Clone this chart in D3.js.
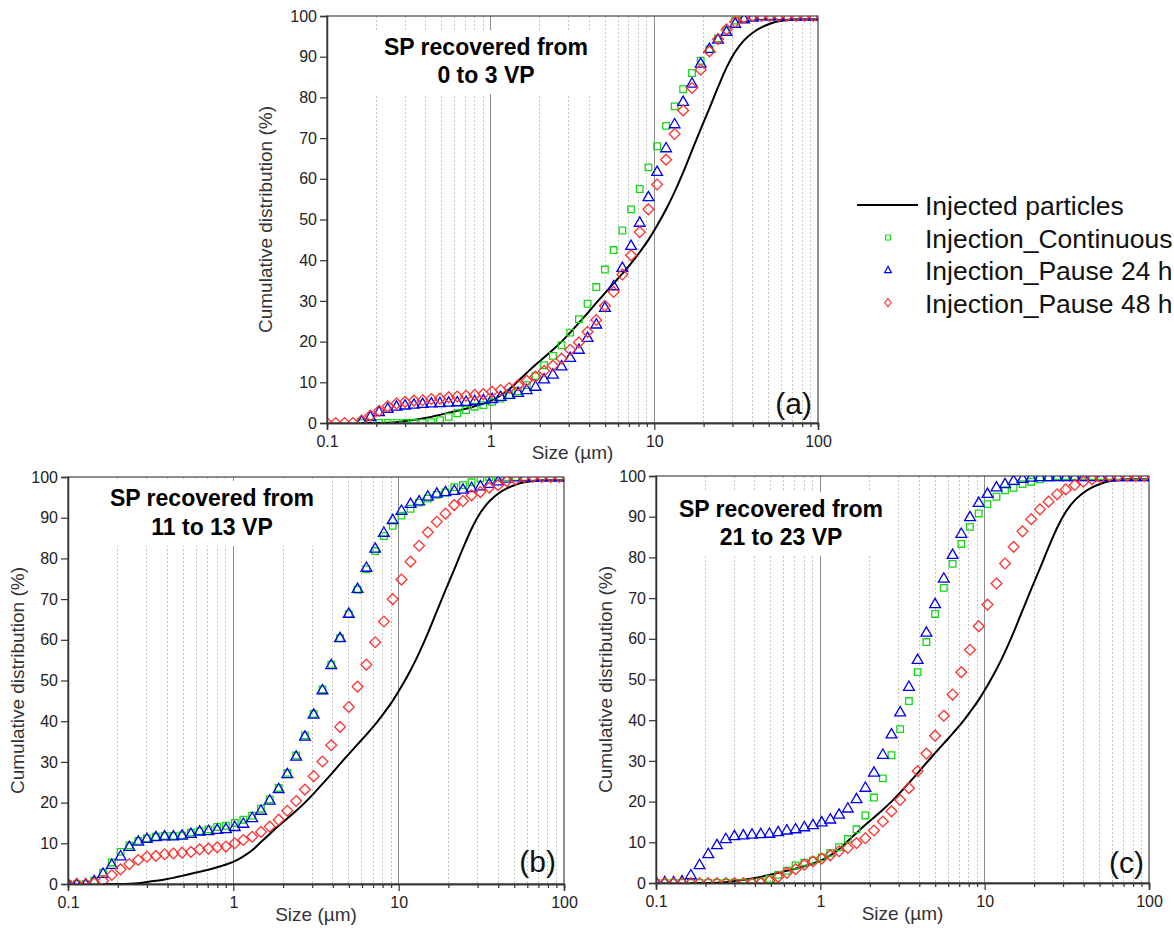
<!DOCTYPE html>
<html><head><meta charset="utf-8">
<script src="https://cdn.jsdelivr.net/npm/d3@7"></script>
<style>
body{margin:0;background:#fff}
svg{display:block}
text{font-family:Arial,"Liberation Sans",sans-serif}
</style>
</head><body>
<svg id="chart" width="1174" height="928"></svg>
<script>
// particle size classes (µm)
const sizes = [0.1,0.113,0.128,0.144,0.163,0.184,0.208,0.235,0.266,0.300,
  0.340,0.384,0.434,0.490,0.554,0.625,0.707,0.799,0.902,1.02,
  1.15,1.30,1.47,1.66,1.88,2.12,2.40,2.71,3.06,3.46,
  3.91,4.42,4.99,5.64,6.38,7.21,8.14,9.20,10.4,11.8,
  13.3,15.0,17.0,19.2,21.7,24.5,27.6,31.2,35.3,39.9,
  45.1,50.9,57.6,65.0,73.5,83.0,93.8,106];

const injected = [null,null,null,null,0,0,0,0.05,0.2,0.5,
  0.8,1.1,1.5,2.0,2.5,3.0,3.5,4.1,4.8,5.6,
  6.8,8.3,10.3,12.3,14.3,16.1,18.0,20.0,22.2,24.6,
  27.0,29.5,31.9,34.3,36.7,39.2,42.0,45.0,48.5,52.5,
  56.8,61.6,67.0,72.2,77.3,82.5,87.3,91.2,94.0,95.9,
  97.2,98.1,98.7,99.0,99.2,99.2,99.2,99.2];

// (a) 0 to 3 VP
const a_continuous = [null,null,null,null,0,0,0,0,0,0,
  0,0,0.2,0.7,1.5,2.4,3.2,4.0,4.4,5.2,
  6.0,6.8,7.8,9.3,11.5,14.2,16.5,19.1,22.2,25.5,
  29.3,33.4,37.7,42.5,47.3,52.5,57.5,62.8,68.0,73.0,
  77.8,82.0,86.0,89.0,91.8,94.5,96.4,98.9,99.5,99.8,
  100,100,100,100,100,100,100,100];
const a_pause24 = [null,null,null,null,0.5,1.6,2.8,3.6,4.1,4.4,
  4.6,4.8,4.9,5.0,5.1,5.2,5.3,5.5,5.7,6.0,
  6.5,7.0,7.5,8.2,9.0,10.8,12.0,14.0,16.1,18.1,
  21.0,24.3,28.4,33.7,38.2,43.6,49.3,55.6,61.8,67.6,
  73.5,79.0,83.5,88.4,92.0,94.3,96.2,98.2,99.3,99.7,
  100,100,100,100,100,100,100,100];
const a_pause48 = [0,0,0,0,0.6,1.8,3.0,4.1,4.8,5.2,
  5.5,5.6,5.9,6.0,6.3,6.5,6.7,6.9,7.1,7.7,
  8.1,8.6,9.3,10.4,11.4,12.8,14.1,15.8,18.0,19.8,
  22.4,25.3,28.8,32.2,36.5,41.2,46.9,52.5,58.6,64.7,
  71.0,76.8,82.3,86.8,91.3,94.3,96.7,98.6,99.6,100,
  100,100,100,100,100,100,100,100];

// (b) 11 to 13 VP
const b_continuous = [0,0,0,0.8,2.8,5.3,7.9,9.5,10.6,11.2,
  11.6,11.8,11.8,11.9,12.6,13.0,13.4,14.0,14.3,15.0,
  15.8,16.8,18.5,20.8,23.6,27.3,31.6,36.5,41.8,47.8,
  53.9,60.4,66.3,72.3,77.3,81.8,85.5,88.0,90.5,92.2,
  93.7,94.7,95.6,96.2,97.5,98.0,98.7,99.7,100,100,
  100,100,100,100,100,100,100,100];
const b_pause24 = [0,0,0,0.8,2.6,4.8,6.9,9.2,10.5,11.2,
  11.6,11.8,11.8,12.0,12.4,13.0,13.1,13.4,13.6,14.1,
  14.9,16.3,18.1,20.6,23.4,27.1,31.4,36.3,41.7,47.7,
  53.9,60.5,66.5,72.6,77.8,82.5,86.4,89.5,91.8,93.5,
  94.1,95.3,96.0,96.4,96.7,97.0,97.4,97.8,98.4,99.0,
  99.7,100,100,100,100,100,100,100];
const b_pause48 = [0,0,0,0.2,0.8,2.2,3.6,4.9,5.9,6.7,
  6.9,7.3,7.5,7.7,7.9,8.5,8.7,9.0,9.2,10.0,
  10.8,11.6,12.8,14.1,15.8,18.0,20.4,23.2,26.5,30.1,
  34.1,38.6,43.5,48.5,53.9,59.4,64.5,70.0,74.8,79.2,
  83.1,86.4,89.0,91.0,93.1,94.1,95.5,96.3,97.4,98.0,
  99.0,99.4,100,100,100,100,100,100];

// (c) 21 to 23 VP
const c_continuous = [0,0,0,0,0,0,0,0,0,0,
  0,0,0.3,1.0,2.0,3.0,4.3,5.0,5.5,6.3,
  7.4,8.8,10.8,13.2,16.6,21.0,25.7,31.4,37.8,44.7,
  51.8,59.2,66.1,72.5,78.4,83.3,87.5,90.8,93.1,94.9,
  96.5,97.1,98.0,98.6,99.2,99.6,100,100,100,100,
  100,100,100,100,100,100,100,100];
const c_pause24 = [0.3,0.3,0.3,0.5,2.0,4.5,7.2,9.4,10.9,11.6,
  11.8,12.0,12.1,12.2,12.6,13.0,13.3,13.8,14.3,15.0,
  15.7,16.9,18.4,20.7,23.5,27.2,31.6,36.6,42.0,48.3,
  54.9,61.6,68.6,74.9,80.7,85.9,90.0,93.5,95.7,97.3,
  98.1,98.9,99.4,99.7,99.8,99.8,99.8,99.8,99.8,99.8,
  99.8,99.8,99.8,99.8,99.8,99.8,99.8,99.8];
const c_pause48 = [0,0,0,0,0,0,0,0,0,0,
  0,0,0,0.5,1.5,2.5,3.4,4.5,5.3,6.0,
  6.8,7.8,8.6,9.8,11.0,12.9,15.1,17.6,20.4,23.3,
  27.5,31.8,36.2,41.1,46.3,51.8,57.3,63.1,68.4,73.6,
  78.5,82.6,86.4,89.4,91.8,93.7,95.5,96.7,97.8,98.6,
  99.2,99.6,100,100,100,100,100,100];

const yTicks = [0,10,20,30,40,50,60,70,80,90,100];
const xMajor = [0.1,1,10,100];
const xMajorLabels = ["0.1","1","10","100"];
const seriesNames = ["Injected particles","Injection_Continuous","Injection_Pause 24 h","Injection_Pause 48 h"];
const titleA = ["SP recovered from","0 to 3 VP"];
const titleB = ["SP recovered from","11 to 13 VP"];
const titleC = ["SP recovered from","21 to 23 VP"];
const yTitle = "Cumulative distribution (%)";
const xTitle = "Size (µm)";

const COL = {green:"#16d816", blue:"#0000f0", red:"#ff3030"};
const SHAPE = {
  square:"M-3.3,-3.3H3.3V3.3H-3.3Z",
  triangle:"M0,-5.4L5.4,3.9L-5.4,3.9Z",
  diamond:"M0,-5.4L5.4,0L0,5.4L-5.4,0Z"
};
const SHAPE_SMALL = {
  square:"M-2.5,-2.5H2.5V2.5H-2.5Z",
  triangle:"M0,-3.6L3.4,2.6L-3.4,2.6Z",
  diamond:"M0,-4L3.2,0L0,4L-3.2,0Z"
};

const panels = [
  {key:"a", x0:327, x1:818, y0:16, y1:423, title:titleA, cx:486, t1:55, t2:83,
   letter:"(a)", lx:812, ly:414, ylx:272, xly:459,
   cont:a_continuous, p24:a_pause24, p48:a_pause48},
  {key:"b", x0:68, x1:564, y0:477, y1:884, title:titleB, cx:212, t1:506, t2:535,
   letter:"(b)", lx:556, ly:872, ylx:24, xly:921,
   cont:b_continuous, p24:b_pause24, p48:b_pause48},
  {key:"c", x0:656, x1:1149, y0:476, y1:883, title:titleC, cx:781, t1:517, t2:545,
   letter:"(c)", lx:1144, ly:873, ylx:612, xly:920,
   cont:c_continuous, p24:c_pause24, p48:c_pause48}
];

const svg = d3.select("#chart");

panels.forEach(p => {
  const x = d3.scaleLog().domain([0.1,100]).range([p.x0,p.x1]);
  const y = d3.scaleLinear().domain([0,100]).range([p.y1,p.y0]);
  const g = svg.append("g");
  const clipId = "clip-" + p.key;
  g.append("clipPath").attr("id", clipId).append("rect")
    .attr("x", p.x0).attr("y", p.y0).attr("width", p.x1 - p.x0).attr("height", p.y1 - p.y0);

  // vertical grid
  const all = x.ticks().filter(v => v > 0.1 + 1e-9 && v < 100 - 1e-6);
  const isMajor = v => Math.abs(Math.log10(v) - Math.round(Math.log10(v))) < 1e-6;
  g.append("g").selectAll("line").data(all).join("line")
    .attr("x1", d => x(d)).attr("x2", d => x(d))
    .attr("y1", p.y0).attr("y2", p.y1)
    .attr("stroke", d => isMajor(d) ? "#8c8c8c" : "#c4c4c4")
    .attr("stroke-width", 1)
    .attr("stroke-dasharray", d => isMajor(d) ? null : "2,2")
    .attr("shape-rendering", "crispEdges");

  // title (white box hides grid)
  g.append("rect").attr("x", p.cx - 110).attr("y", p.t1 - 25)
    .attr("width", 220).attr("height", p.t2 - p.t1 + 36).attr("fill", "#fff");
  g.append("g").selectAll("text").data(p.title).join("text")
    .attr("x", p.cx).attr("y", (d, i) => i ? p.t2 : p.t1)
    .attr("text-anchor", "middle").attr("font-weight", "bold")
    .attr("font-size", 23).attr("fill", "#000").text(d => d);

  // frame
  g.append("rect").attr("x", p.x0).attr("y", p.y0)
    .attr("width", p.x1 - p.x0).attr("height", p.y1 - p.y0)
    .attr("fill", "none").attr("stroke", "#444").attr("stroke-width", 1.2);

  // data
  const plot = g.append("g").attr("clip-path", `url(#${clipId})`);
  const line = d3.line().defined(d => d[1] != null)
    .x(d => x(d[0])).y(d => y(d[1])).curve(d3.curveMonotoneX);
  plot.append("path").datum(sizes.map((s, i) => [s, injected[i]]))
    .attr("d", line).attr("fill", "none").attr("stroke", "#000").attr("stroke-width", 2);

  const series = [
    {vals:p.cont, shape:"square", color:COL.green},
    {vals:p.p24, shape:"triangle", color:COL.blue},
    {vals:p.p48, shape:"diamond", color:COL.red}
  ];
  series.forEach(s => {
    const pts = sizes.map((sz, i) => [sz, s.vals[i]]).filter(d => d[1] != null);
    plot.append("g").selectAll("path").data(pts).join("path")
      .attr("d", SHAPE[s.shape])
      .attr("transform", d => `translate(${x(d[0])},${y(d[1])})`)
      .attr("fill", "none").attr("stroke", s.color).attr("stroke-width", 1.3);
  });

  // axes
  const yAxis = g.append("g").attr("transform", `translate(${p.x0},0)`)
    .call(d3.axisLeft(y).tickValues(yTicks).tickSize(7).tickPadding(3));
  const xMinor = g.append("g").attr("transform", `translate(0,${p.y1})`)
    .call(d3.axisBottom(x).tickValues(all.filter(v => !isMajor(v))).tickSize(4).tickFormat(""));
  const xAxis = g.append("g").attr("transform", `translate(0,${p.y1})`)
    .call(d3.axisBottom(x).tickValues(xMajor).tickSize(7).tickPadding(6)
      .tickFormat((d, i) => xMajorLabels[i]));
  [yAxis, xMinor, xAxis].forEach(a => {
    a.selectAll("path.domain").attr("stroke", "#333").attr("stroke-width", 1.5);
    a.selectAll(".tick line").attr("stroke", "#333").attr("stroke-width", 1.2);
    a.selectAll("text").attr("font-size", 16).attr("fill", "#222")
      .attr("font-family", "Arial, 'Liberation Sans', sans-serif");
  });

  // axis titles
  g.append("text").attr("transform", `translate(${p.ylx},${(p.y0 + p.y1) / 2}) rotate(-90)`)
    .attr("text-anchor", "middle").attr("font-size", 19).attr("fill", "#333").text(yTitle);
  g.append("text").attr("x", (p.x0 + p.x1) / 2).attr("y", p.xly)
    .attr("text-anchor", "middle").attr("font-size", 19).attr("fill", "#333").text(xTitle);

  // panel letter
  g.append("text").attr("x", p.lx).attr("y", p.ly).attr("text-anchor", "end")
    .attr("font-size", 30).attr("fill", "#111").text(p.letter);
});

// legend
const lg = svg.append("g");
const legendItems = [
  {name:seriesNames[0], type:"line"},
  {name:seriesNames[1], type:"square", color:COL.green},
  {name:seriesNames[2], type:"triangle", color:COL.blue},
  {name:seriesNames[3], type:"diamond", color:COL.red}
];
legendItems.forEach((it, i) => {
  const cy = 205 + i * 32.5;
  if (it.type === "line") {
    lg.append("line").attr("x1", 857).attr("x2", 918).attr("y1", cy).attr("y2", cy)
      .attr("stroke", "#000").attr("stroke-width", 2);
  } else {
    lg.append("path").attr("d", SHAPE_SMALL[it.type])
      .attr("transform", `translate(888,${cy})`)
      .attr("fill", "none").attr("stroke", it.color).attr("stroke-width", 1.2);
  }
  lg.append("text").attr("x", 925).attr("y", cy + 10).attr("font-size", 26.5)
    .attr("fill", "#111").text(it.name);
});
</script>
</body></html>
